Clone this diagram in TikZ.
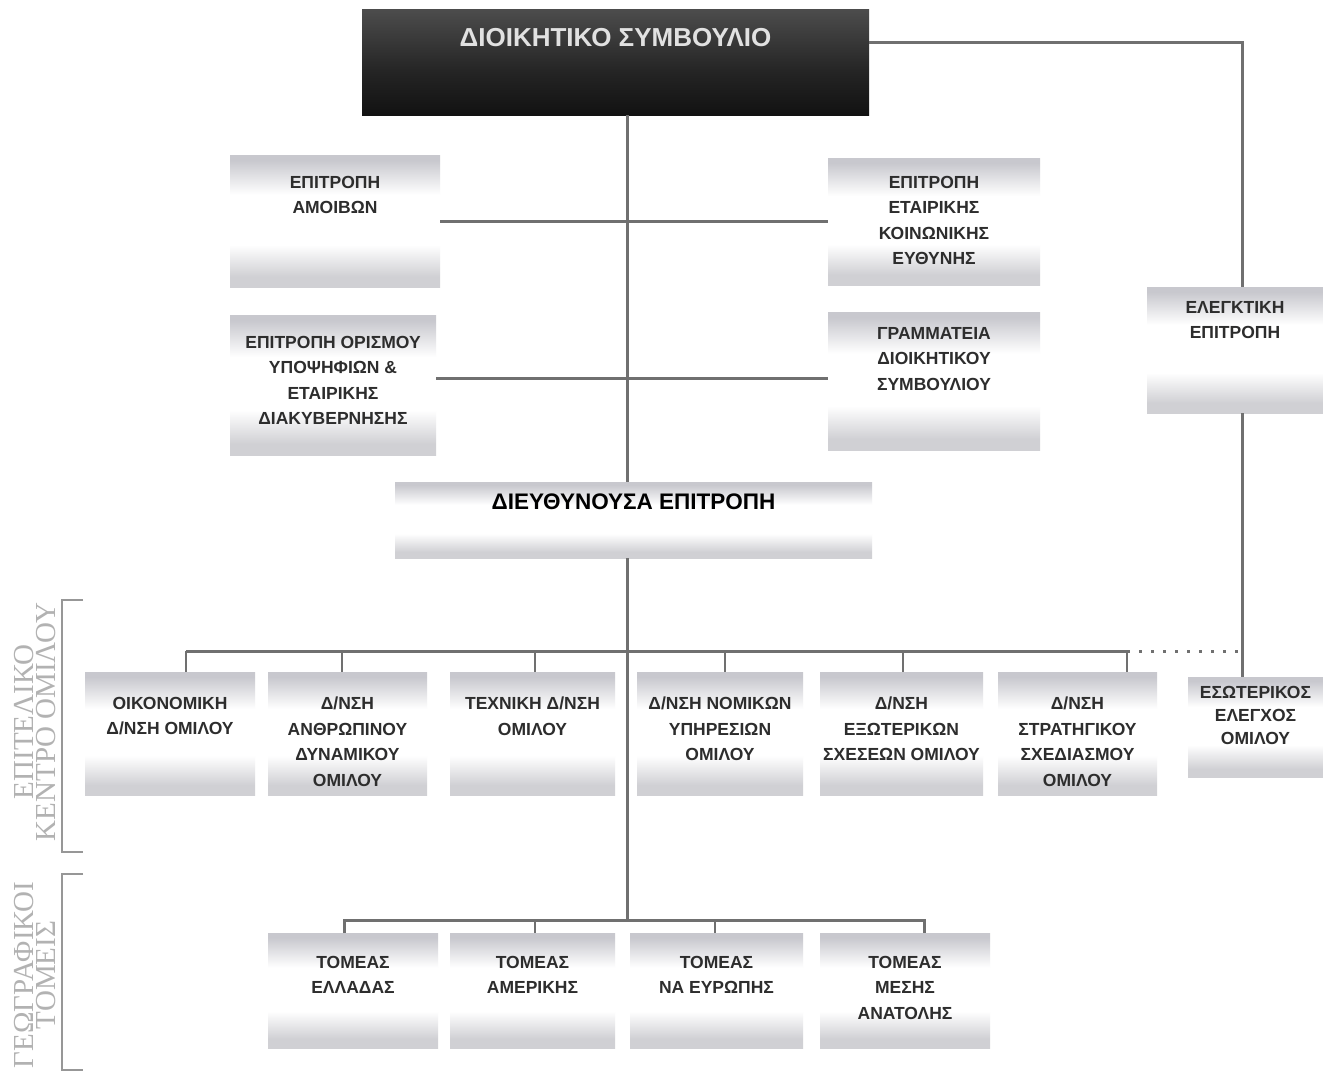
\documentclass[tikz,border=0pt]{standalone}
\usepackage{fontspec}
\setmainfont{Liberation Sans}
\newfontfamily\lblfont{Liberation Serif}
\definecolor{bandlo}{RGB}{208,208,212}
\definecolor{bandhi}{RGB}{200,200,206}
\definecolor{linec}{RGB}{112,112,112}
\definecolor{txtc}{RGB}{45,45,45}
\definecolor{lblc}{RGB}{178,178,178}
\definecolor{toptxt}{RGB}{225,225,225}
\pgfdeclareverticalshading{boxshade}{100bp}{color(0bp)=(bandlo); color(25bp)=(bandlo); color(29bp)=(bandlo); color(41bp)=(white); color(60bp)=(white); color(73bp)=(bandhi); color(75bp)=(bandhi); color(100bp)=(bandhi)}
\pgfdeclareverticalshading{darkshade}{100bp}{color(0bp)=(black!93); color(25bp)=(black!93); color(45bp)=(black!86); color(75bp)=(black!70); color(100bp)=(black!70)}
\tikzset{
  orgbox/.style={rectangle, draw=none, shading=boxshade, inner sep=0pt, outer sep=0pt},
  topbox/.style={rectangle, draw=none, shading=darkshade, inner sep=0pt, outer sep=0pt},
  orgtext/.style={inner sep=0pt, outer sep=0pt, align=center, text=txtc, font=\fontsize{17.5}{25.5}\selectfont\bfseries},
  conn/.style={draw=linec, line width=3pt},
  tickln/.style={draw=linec, line width=1.6pt},
  dotln/.style={draw=linec, line width=3pt, dash pattern=on 3pt off 9pt},
  brk/.style={draw=lblc!85!black, line width=2.2pt},
  sidelbl/.style={inner sep=0pt, align=center, text=lblc, rotate=90, font=\lblfont\fontsize{29}{22}\selectfont}
}
\newcommand\obox[7]{%
  \node[orgbox, minimum width=#4pt, minimum height=#5pt, anchor=north west] (#1) at (#2,#3) {};
  \node[orgtext, anchor=north] (#1t) at ([yshift=-#6pt]#1.north) {#7};}
\begin{document}
\begin{tikzpicture}[x=1pt,y=-1pt]
\useasboundingbox (0,0) rectangle (1323,1074);
\fill[white] (0,0) rectangle (1323,1074);

% coordinates of the buses
\coordinate (bus1) at (627,651);
\coordinate (bus2) at (627,920);
\coordinate (r2) at (627,378);
\coordinate (t1) at (186,651);
\coordinate (t2) at (342,651);
\coordinate (t3) at (535,651);
\coordinate (t4) at (725,651);
\coordinate (t5) at (903,651);
\coordinate (t6) at (1127,651);
\coordinate (t7) at (1242,651);
\coordinate (u1) at (344,920);
\coordinate (u2) at (535,920);
\coordinate (u3) at (715,920);
\coordinate (u4) at (924,920);

% board
\node[topbox, minimum width=507pt, minimum height=106pt, anchor=north west] (top) at (362,9) {};
\node[inner sep=0pt, anchor=north, text=toptxt, font=\fontsize{26}{30}\selectfont\bfseries] (topt) at ([yshift=-19pt]top.north) {ΔΙΟΙΚΗΤΙΚΟ ΣΥΜΒΟΥΛΙΟ};

% committees
\obox{amoib}{230}{155}{210}{132}{21}{ΕΠΙΤΡΟΠΗ\\ΑΜΟΙΒΩΝ}
\obox{orism}{230}{315}{206}{140}{21}{ΕΠΙΤΡΟΠΗ ΟΡΙΣΜΟΥ\\ΥΠΟΨΗΦΙΩΝ \&\\ΕΤΑΙΡΙΚΗΣ\\ΔΙΑΚΥΒΕΡΝΗΣΗΣ}
\obox{csr}{828}{158}{212}{127}{18}{ΕΠΙΤΡΟΠΗ\\ΕΤΑΙΡΙΚΗΣ\\ΚΟΙΝΩΝΙΚΗΣ\\ΕΥΘΥΝΗΣ}
\obox{gram}{828}{312}{212}{138}{15}{ΓΡΑΜΜΑΤΕΙΑ\\ΔΙΟΙΚΗΤΙΚΟΥ\\ΣΥΜΒΟΥΛΙΟΥ}
\obox{audit}{1147}{287}{176}{126}{14}{ΕΛΕΓΚΤΙΚΗ\\ΕΠΙΤΡΟΠΗ}

% executive committee
\node[orgbox, minimum width=477pt, minimum height=76pt, anchor=north west] (exec) at (395,482) {};
\node[inner sep=0pt, anchor=north, text=black, font=\fontsize{22.5}{26}\selectfont\bfseries] (exect) at ([yshift=-12pt]exec.north) {ΔΙΕΥΘΥΝΟΥΣΑ ΕΠΙΤΡΟΠΗ};

% departments
\obox{d1}{85}{672}{170}{123}{25}{ΟΙΚΟΝΟΜΙΚΗ\\Δ/ΝΣΗ ΟΜΙΛΟΥ}
\obox{d2}{268}{672}{159}{123}{25}{Δ/ΝΣΗ\\ΑΝΘΡΩΠΙΝΟΥ\\ΔΥΝΑΜΙΚΟΥ\\ΟΜΙΛΟΥ}
\obox{d3}{450}{672}{165}{123}{25}{ΤΕΧΝΙΚΗ Δ/ΝΣΗ\\ΟΜΙΛΟΥ}
\obox{d4}{637}{672}{166}{123}{25}{Δ/ΝΣΗ ΝΟΜΙΚΩΝ\\ΥΠΗΡΕΣΙΩΝ\\ΟΜΙΛΟΥ}
\obox{d5}{820}{672}{163}{123}{25}{Δ/ΝΣΗ\\ΕΞΩΤΕΡΙΚΩΝ\\ΣΧΕΣΕΩΝ ΟΜΙΛΟΥ}
\obox{d6}{998}{672}{159}{123}{25}{Δ/ΝΣΗ\\ΣΤΡΑΤΗΓΙΚΟΥ\\ΣΧΕΔΙΑΣΜΟΥ\\ΟΜΙΛΟΥ}
\node[orgbox, minimum width=135pt, minimum height=100pt, anchor=north west] (d7) at (1188,677) {};
\node[orgtext, anchor=north, font=\fontsize{17.5}{23}\selectfont\bfseries] (d7t) at ([yshift=-9pt]d7.north) {ΕΣΩΤΕΡΙΚΟΣ\\ΕΛΕΓΧΟΣ\\ΟΜΙΛΟΥ};

% sectors
\obox{s1}{268}{933}{170}{115}{23}{ΤΟΜΕΑΣ\\ΕΛΛΑΔΑΣ}
\obox{s2}{450}{933}{165}{115}{23}{ΤΟΜΕΑΣ\\ΑΜΕΡΙΚΗΣ}
\obox{s3}{630}{933}{173}{115}{23}{ΤΟΜΕΑΣ\\ΝΑ ΕΥΡΩΠΗΣ}
\obox{s4}{820}{933}{170}{115}{23}{ΤΟΜΕΑΣ\\ΜΕΣΗΣ\\ΑΝΑΤΟΛΗΣ}

% connectors
\draw[conn] (top.south -| bus1) -- (exec.north -| bus1);
\draw[conn] (amoib.east) -- (amoib.east -| csr.west);
\draw[conn] (orism.east |- r2) -- (gram.west |- r2);
\draw[conn] ([yshift=20pt]top.east) -| (audit.north -| t7);
\draw[conn] (audit.south -| t7) -- (t7) -- (t7 |- d7.north);
\draw[conn] (exec.south -| bus1) -- (bus2);
\draw[conn] (t1) -- (t6);
\draw[dotln] (t6) -- (t7);
\foreach \t/\b in {t1/d1,t2/d2,t3/d3,t4/d4,t5/d5,t6/d6}
  \draw[tickln] (\t) -- (\t |- \b.north);
\draw[conn] (s1.north -| u1) -- (u1) -- (u4) -- (s4.north -| u4);
\foreach \t/\b in {u2/s2,u3/s3}
  \draw[tickln] (\t) -- (\t |- \b.north);

% side labels
\node[sidelbl] (lbl1) at (35,722) {ΕΠΙΤΕΛΙΚΟ\\ΚΕΝΤΡΟ ΟΜΙΛΟΥ};
\node[sidelbl] (lbl2) at (35,975) {ΓΕΩΓΡΑΦΙΚΟΙ\\ΤΟΜΕΙΣ};
\draw[brk] (83,600) -- (62,600) -- (62,852) -- (83,852);
\draw[brk] (83,874) -- (62,874) -- (62,1070) -- (83,1070);
\end{tikzpicture}
\end{document}
